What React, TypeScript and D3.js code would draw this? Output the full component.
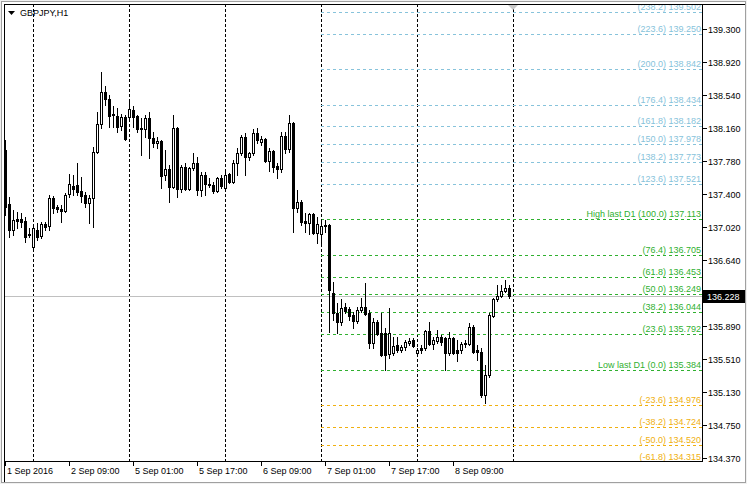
import * as React from 'react';
import * as d3 from 'd3';

// GBPJPY H1 bars, 1 Sep 17:00 .. 8 Sep 23:00
const opens = [
  137.911, 137.290, 136.990, 137.117, 137.117, 137.094, 136.944, 136.795, 136.990, 136.921,
  137.059, 137.036, 137.359, 137.255, 137.232, 137.209, 137.405, 137.497, 137.508, 137.439,
  137.393, 137.301, 137.359, 137.888, 138.210, 138.578, 138.498, 138.325, 138.302, 138.187,
  138.291, 138.291, 138.371, 138.302, 138.164, 138.153, 138.279, 138.049, 137.992, 138.015,
  137.624, 137.692, 137.485, 138.164, 137.462, 137.715, 137.462, 137.704, 137.761, 137.451,
  137.624, 137.520, 137.508, 137.439, 137.589, 137.474, 137.635, 137.543, 137.761, 137.876,
  138.061, 137.830, 137.876, 138.107, 138.003, 138.038, 137.784, 137.899, 137.727, 137.692,
  138.072, 137.922, 138.222, 137.243, 137.313, 137.094, 137.071, 137.174, 136.956, 136.944,
  137.036, 137.048, 136.265, 136.035, 135.932, 136.104, 136.081, 136.012, 135.943, 136.070,
  136.104, 136.035, 135.690, 135.932, 135.805, 135.805, 135.564, 135.575, 135.667, 135.610,
  135.644, 135.690, 135.725, 135.575, 135.633, 135.633, 135.828, 135.679, 135.713, 135.759,
  135.748, 135.575, 135.748, 135.610, 135.610, 135.679, 135.679, 135.874, 135.610, 135.587,
  135.091, 135.322, 136.001, 136.196, 136.231, 136.288, 136.323,
];
const highs = [
  138.026, 137.370, 137.220, 137.197, 137.186, 137.140, 137.013, 137.025, 137.071, 137.082,
  137.082, 137.393, 137.382, 137.278, 137.278, 137.416, 137.635, 137.624, 137.761, 137.600,
  137.428, 137.393, 137.945, 138.348, 138.809, 138.647, 138.544, 138.417, 138.394, 138.325,
  138.314, 138.486, 138.417, 138.314, 138.279, 138.314, 138.348, 138.118, 138.061, 138.026,
  137.911, 137.738, 138.314, 138.176, 137.738, 137.761, 137.715, 137.876, 137.830, 137.658,
  137.658, 137.589, 137.543, 137.600, 137.624, 137.658, 137.646, 137.796, 137.934, 138.084,
  138.107, 137.888, 138.153, 138.164, 138.072, 138.049, 137.934, 137.911, 137.761, 138.118,
  138.118, 138.314, 138.233, 137.451, 137.336, 137.186, 137.186, 137.186, 137.140, 137.117,
  137.105, 137.059, 136.392, 136.150, 136.196, 136.150, 136.104, 136.047, 136.104, 136.208,
  136.380, 136.070, 135.978, 135.955, 136.035, 135.863, 136.093, 135.759, 135.759, 135.667,
  135.725, 135.748, 135.748, 135.633, 135.667, 135.840, 135.932, 135.759, 135.840, 135.782,
  135.759, 135.817, 135.759, 135.725, 135.702, 135.725, 135.920, 135.897, 135.667, 135.633,
  135.437, 136.035, 136.208, 136.357, 136.357, 136.415, 136.357,
];
const lows = [
  137.163, 136.910, 136.933, 137.013, 137.025, 136.852, 136.910, 136.783, 136.875, 136.898,
  136.990, 136.990, 137.186, 137.197, 137.082, 137.197, 137.370, 137.393, 137.393, 137.313,
  137.255, 137.071, 137.025, 137.876, 138.164, 138.429, 138.176, 138.176, 138.118, 138.141,
  138.026, 138.256, 138.176, 138.118, 137.853, 138.061, 137.819, 137.945, 137.934, 137.474,
  137.566, 137.313, 137.474, 137.370, 137.428, 137.451, 137.451, 137.681, 137.393, 137.382,
  137.393, 137.485, 137.416, 137.428, 137.474, 137.451, 137.531, 137.531, 137.624, 137.853,
  137.624, 137.796, 137.853, 137.992, 137.968, 137.773, 137.669, 137.658, 137.589, 137.658,
  137.876, 137.888, 136.967, 137.197, 137.048, 136.967, 136.944, 136.944, 136.841, 136.841,
  136.967, 135.817, 135.955, 135.805, 135.897, 136.035, 135.955, 135.863, 135.920, 136.047,
  136.012, 135.633, 135.633, 135.782, 135.545, 135.379, 135.517, 135.552, 135.587, 135.587,
  135.610, 135.667, 135.644, 135.552, 135.575, 135.610, 135.667, 135.621, 135.690, 135.667,
  135.379, 135.552, 135.564, 135.483, 135.575, 135.644, 135.667, 135.575, 135.494, 135.068,
  134.999, 135.299, 135.989, 136.173, 136.219, 136.277, 136.208,
];
const closes = [
  137.255, 136.990, 137.105, 137.094, 137.082, 136.910, 136.933, 137.013, 136.910, 137.059,
  137.025, 137.359, 137.243, 137.232, 137.209, 137.393, 137.520, 137.462, 137.428, 137.382,
  137.301, 137.359, 137.888, 138.210, 138.578, 138.498, 138.302, 138.314, 138.176, 138.291,
  138.038, 138.383, 138.291, 138.153, 138.153, 138.279, 138.049, 137.992, 138.015, 137.612,
  137.692, 137.485, 138.164, 137.462, 137.715, 137.462, 137.704, 137.761, 137.451, 137.624,
  137.520, 137.508, 137.439, 137.589, 137.497, 137.624, 137.543, 137.761, 137.876, 138.061,
  137.830, 137.876, 138.107, 138.026, 138.038, 137.784, 137.899, 137.715, 137.692, 138.072,
  137.922, 138.222, 137.243, 137.313, 137.082, 137.071, 137.174, 136.956, 137.059, 137.036,
  137.048, 136.300, 136.035, 135.932, 136.093, 136.058, 136.001, 135.943, 136.070, 136.104,
  136.024, 135.690, 135.932, 135.794, 135.552, 135.552, 135.805, 135.656, 135.610, 135.644,
  135.702, 135.713, 135.656, 135.610, 135.610, 135.828, 135.679, 135.725, 135.759, 135.702,
  135.575, 135.748, 135.575, 135.575, 135.679, 135.690, 135.874, 135.587, 135.587, 135.091,
  135.322, 136.012, 136.196, 136.231, 136.288, 136.323, 136.228,
];

// bar index of each time label on the bottom axis
const timeTickIndex = [0, 16, 32, 48, 64, 80, 96, 112];
const timeTickLabels = ['1 Sep 2016', '2 Sep 09:00', '5 Sep 01:00', '5 Sep 17:00', '6 Sep 09:00', '7 Sep 01:00', '7 Sep 17:00', '8 Sep 09:00'];
// day separators (00:00 bars)
const separatorIndex = [7, 31, 55, 79, 103, 127];

const priceTicks = [139.3, 138.92, 138.54, 138.16, 137.78, 137.4, 137.02, 136.64, 135.89, 135.51, 135.13, 134.75, 134.37];

const fibLabels = [
  '(238.2) 139.502', '(223.6) 139.250', '(200.0) 138.842', '(176.4) 138.434', '(161.8) 138.182',
  '(150.0) 137.978', '(138.2) 137.773', '(123.6) 137.521',
  'High last D1 (100.0) 137.113', '(76.4) 136.705', '(61.8) 136.453', '(50.0) 136.249',
  '(38.2) 136.044', '(23.6) 135.792', 'Low last D1 (0.0) 135.384',
  '(-23.6) 134.976', '(-38.2) 134.724', '(-50.0) 134.520', '(-61.8) 134.315',
];
const fibValues = [
  139.502, 139.25, 138.842, 138.434, 138.182, 137.978, 137.773, 137.521,
  137.113, 136.705, 136.453, 136.249, 136.044, 135.792, 135.384,
  134.976, 134.724, 134.52, 134.315,
];
const fibStartIndex = 79;
const lastPrice = 136.228;

const W = 747;
const H = 484;
const plot = { left: 4, top: 4, right: 702, bottom: 461 };
const FONT = '"Liberation Sans", Arial, sans-serif';

// above 100% light blue, 0..100% green, below 0% orange
const fibColor = (v: number) => {
  if (v > 137.2) return '#87c3db';
  if (v >= 135.3) return '#30b030';
  return '#f0b010';
};

const App: React.FC = () => {
  const x = d3.scaleLinear().domain([0, 127]).range([5, 513]);
  const y = d3.scaleLinear().domain([134.332, 139.591]).range([plot.bottom, plot.top]);
  const ry = (v: number) => Math.round(y(v));

  const candles = opens.map((o, i) => {
    const cx = Math.round(x(i));
    const yo = ry(o), yc = ry(closes[i]), yh = ry(highs[i]), yl = ry(lows[i]);
    const top = Math.min(yo, yc);
    const bot = Math.max(yo, yc);
    const bull = closes[i] >= o;
    return (
      <g key={i}>
        <line x1={cx + 0.5} x2={cx + 0.5} y1={yh} y2={yl + 1} stroke="#000" />
        {bot - top < 2 ? (
          <rect x={cx - 1} y={top} width={3} height={Math.max(1, bot - top + 1)} fill="#000" />
        ) : bull ? (
          <rect x={cx - 0.5} y={top + 0.5} width={2} height={bot - top} fill="#fff" stroke="#000" />
        ) : (
          <rect x={cx - 1} y={top} width={3} height={bot - top + 1} fill="#000" />
        )}
      </g>
    );
  });

  const fibX = Math.round(x(fibStartIndex));

  return (
    <svg width={W} height={H} style={{ position: 'absolute', left: 0, top: 0, background: '#fff' }}
      fontFamily={FONT} shapeRendering="crispEdges">
      <defs>
        <clipPath id="plotClip">
          <rect x={plot.left + 1} y={plot.top + 1} width={plot.right - plot.left - 1} height={plot.bottom - plot.top - 1} />
        </clipPath>
      </defs>
      {/* window frame */}
      <rect x={0} y={0} width={W} height={H} fill="#f0f0f0" />
      <rect x={1.5} y={1.5} width={744} height={481} fill="#fff" stroke="#a0a0a0" />
      <line x1={4.5} x2={4.5} y1={4} y2={482} stroke="#000" />
      <line x1={4} x2={745} y1={4.5} y2={4.5} stroke="#000" />

      <g clipPath="url(#plotClip)">
        {/* day separators */}
        {separatorIndex.map(i => (
          <line key={i} x1={Math.round(x(i)) + 0.5} x2={Math.round(x(i)) + 0.5} y1={plot.top} y2={plot.bottom}
            stroke="#000" strokeDasharray="3,2" />
        ))}
        {/* fibo levels */}
        {fibValues.map((v, k) => {
          const ly = ry(v) + 0.5;
          const c = fibColor(v);
          return (
            <g key={k}>
              <line x1={fibX} x2={plot.right} y1={ly} y2={ly} stroke={c} strokeDasharray="3,3" />
              <text x={plot.right - 1} y={ly - 3} textAnchor="end" fontSize={9} fill={c}
                shapeRendering="auto">{fibLabels[k]}</text>
            </g>
          );
        })}
        {/* bid line */}
        <line x1={plot.left} x2={plot.right} y1={ry(lastPrice) + 0.5} y2={ry(lastPrice) + 0.5} stroke="#c0c0c0" />
        {candles}
        {/* chart shift marker */}
        <polygon points="508,5 518,5 513,10" fill="#c8c8c8" shapeRendering="auto" />
      </g>

      {/* title */}
      <polygon points="8,11 15,11 11.5,15" fill="#000" shapeRendering="auto" />
      <text x={20} y={16} fontSize={9} fill="#000">GBPJPY,H1</text>

      {/* axes */}
      <line x1={plot.right + 0.5} x2={plot.right + 0.5} y1={plot.top} y2={plot.bottom + 1} stroke="#000" />
      <line x1={plot.left} x2={plot.right + 1} y1={plot.bottom + 0.5} y2={plot.bottom + 0.5} stroke="#000" />
      {priceTicks.map(p => (
        <g key={p}>
          <line x1={plot.right + 1} x2={plot.right + 5} y1={ry(p) + 0.5} y2={ry(p) + 0.5} stroke="#000" />
          <text x={plot.right + 6} y={ry(p) + 3.5} fontSize={9} fill="#000">{p.toFixed(3)}</text>
        </g>
      ))}
      <rect x={plot.right + 1} y={ry(lastPrice) - 6} width={42} height={13} fill="#000" />
      <text x={plot.right + 5} y={ry(lastPrice) + 4} fontSize={9} fill="#fff">{lastPrice.toFixed(3)}</text>

      {timeTickIndex.map((i, k) => {
        const tx = Math.round(x(i));
        return (
          <g key={i}>
            <line x1={tx + 0.5} x2={tx + 0.5} y1={plot.bottom + 1} y2={plot.bottom + 5} stroke="#000" />
            <text x={tx + 2} y={plot.bottom + 13} fontSize={9} fill="#000">{timeTickLabels[k]}</text>
          </g>
        );
      })}
    </svg>
  );
};

export default App;
